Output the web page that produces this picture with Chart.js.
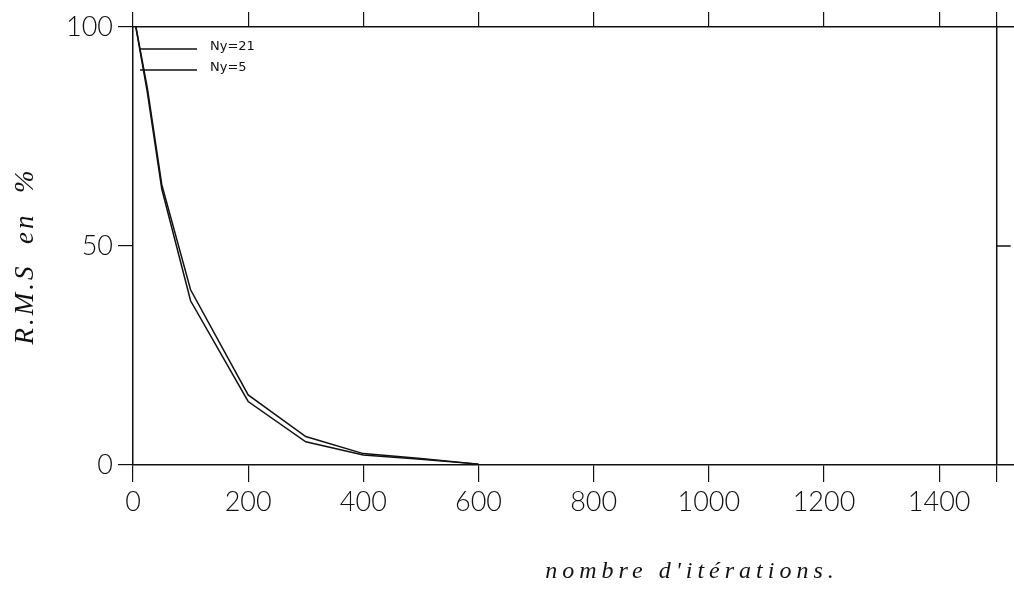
<!DOCTYPE html>
<html>
<head>
<meta charset="utf-8">
<script src="https://cdn.jsdelivr.net/npm/chart.js@4/dist/chart.umd.min.js"></script>
<style>
  html, body { margin: 0; padding: 0; background: #fff; }
  #wrap { width: 1014px; height: 612px; position: relative; }
</style>
</head>
<body>
<div id="wrap"><canvas id="c" width="1014" height="612"></canvas></div>
<script>
// ---- data ----
const iterations = [5, 25, 50, 100, 200, 300, 400, 500, 600];
const rmsNy21 = [100, 86, 64, 40, 16, 6.5, 2.6, 1.5, 0.2];
const rmsNy5  = [100, 85, 63, 37.5, 14.5, 5.3, 2.3, 1.3, 0.2];
const seriesLabels = ['Ny=21', 'Ny=5'];
const xTickValues = [0, 200, 400, 600, 800, 1000, 1200, 1400, 1500];
const xTickLabels = ['0', '200', '400', '600', '800', '1000', '1200', '1400', ''];
const yTickValues = [0, 50, 100];
const xTitle = "nombre d'itérations.";
const yTitle = 'R.M.S  en  %';
const xFrameEnd = 1500;

const INK = '#111';
const tickFont = { family: "Lato, 'DejaVu Sans', sans-serif", size: 27, weight: '300' };

function pts(xs, ys) { return xs.map((x, i) => ({ x: x, y: ys[i] })); }

const framePlugin = {
  id: 'frame',
  afterDraw(chart) {
    const ctx = chart.ctx;
    const xs = chart.scales.x, ys = chart.scales.y;
    const a = chart.chartArea;
    ctx.save();
    ctx.strokeStyle = INK;
    ctx.lineWidth = 1.5;
    // right frame line at x = xFrameEnd
    const xr = xs.getPixelForValue(xFrameEnd);
    ctx.beginPath();
    ctx.moveTo(xr, a.top);
    ctx.lineTo(xr, a.bottom);
    ctx.stroke();
    // right-side tick at 50
    const y50 = ys.getPixelForValue(50);
    ctx.beginPath();
    ctx.moveTo(xr, y50);
    ctx.lineTo(xr + 14, y50);
    ctx.stroke();

    // legend inside plot
    ctx.font = "13px 'DejaVu Sans', sans-serif";
    ctx.fillStyle = INK;
    ctx.textBaseline = 'middle';
    chart.data.datasets.forEach((ds, i) => {
      const yy = a.top + 22 + i * 21;
      ctx.lineWidth = 1.5;
      ctx.beginPath();
      ctx.moveTo(a.left + 7, yy);
      ctx.lineTo(a.left + 64, yy);
      ctx.stroke();
      ctx.fillText(ds.label, a.left + 77, yy - 2);
    });

    // axis titles
    ctx.font = "italic 24px 'Liberation Serif', serif";
    try { ctx.letterSpacing = '5px'; } catch (e) {}
    ctx.textAlign = 'center';
    ctx.textBaseline = 'alphabetic';
    ctx.fillText(xTitle, 692, 578);
    ctx.save();
    ctx.translate(33, 256);
    ctx.rotate(-Math.PI / 2);
    ctx.font = "italic 27px 'Liberation Serif', serif";
    try { ctx.letterSpacing = '3px'; } catch (e) {}
    ctx.fillText(yTitle, 0, 0);
    ctx.restore();
    ctx.restore();
  }
};

const xTicksBuilder = (scale) => { scale.ticks = xTickValues.map(v => ({ value: v })); };

new Chart(document.getElementById('c'), {
  type: 'line',
  data: {
    datasets: [
      { label: seriesLabels[0], data: pts(iterations, rmsNy21) },
      { label: seriesLabels[1], data: pts(iterations, rmsNy5) }
    ]
  },
  options: {
    responsive: false,
    animation: false,
    devicePixelRatio: 1,
    layout: { padding: 0 },
    elements: {
      line: { borderColor: INK, borderWidth: 1.5, tension: 0, fill: false },
      point: { radius: 0, hoverRadius: 0 }
    },
    datasets: { line: { clip: false } },
    plugins: { legend: { display: false }, tooltip: { enabled: false }, title: { display: false } },
    scales: {
      x: {
        type: 'linear', position: 'bottom', min: 0, max: 1530,
        afterBuildTicks: xTicksBuilder,
        afterFit: (s) => { s.height = 147; },
        border: { display: true, color: INK, width: 1.5 },
        grid: { drawOnChartArea: false, drawTicks: true, tickLength: 17, color: INK, lineWidth: 1.2 },
        ticks: {
          color: INK, font: tickFont, padding: 4, maxRotation: 0, autoSkip: false,
          callback: (v, i) => xTickLabels[i]
        }
      },
      xTop: {
        type: 'linear', position: 'top', min: 0, max: 1530,
        afterBuildTicks: xTicksBuilder,
        afterFit: (s) => { s.height = 27; },
        border: { display: true, color: INK, width: 1.5 },
        grid: { drawOnChartArea: false, drawTicks: true, tickLength: 15, color: INK, lineWidth: 1.2 },
        ticks: { display: true, callback: () => '', font: { size: 1 }, padding: 0 }
      },
      y: {
        type: 'linear', position: 'left', min: 0, max: 100,
        afterBuildTicks: (scale) => { scale.ticks = yTickValues.map(v => ({ value: v })); },
        afterFit: (s) => { s.width = 133; },
        border: { display: true, color: INK, width: 1.5 },
        grid: { drawOnChartArea: false, drawTicks: true, tickLength: 15, color: INK, lineWidth: 1.2 },
        ticks: { color: INK, font: tickFont, padding: 5 }
      }
    }
  },
  plugins: [framePlugin]
});
</script>
</body>
</html>
